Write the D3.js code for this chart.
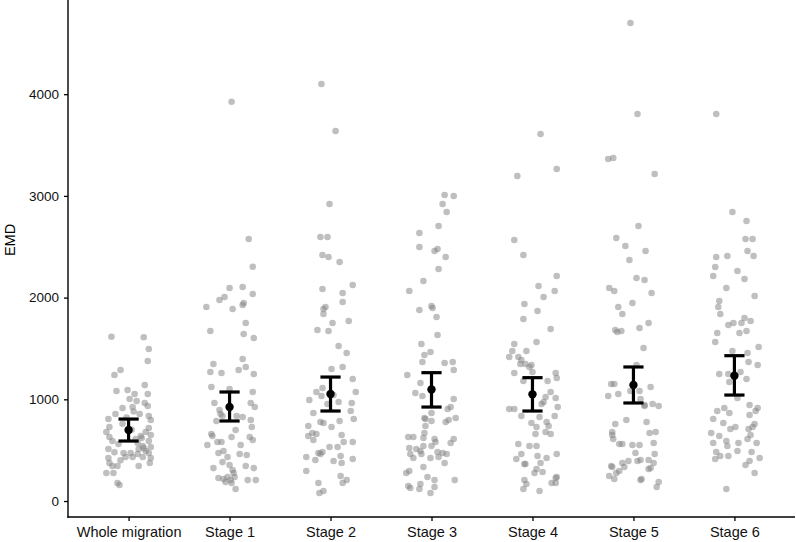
<!DOCTYPE html>
<html>
<head>
<meta charset="utf-8">
<script src="https://cdn.jsdelivr.net/npm/d3@7"></script>
<style>
  html, body { margin: 0; padding: 0; background: #fff; }
  svg { display: block; }
  text { font-family: "Liberation Sans", Arial, Helvetica, sans-serif; }
</style>
</head>
<body>
<svg id="chart" width="796" height="542"></svg>
<script>
// ---- data ----
const categories = ["Whole migration", "Stage 1", "Stage 2", "Stage 3", "Stage 4", "Stage 5", "Stage 6"];
const yTicks = [0, 1000, 2000, 3000, 4000];
const meanEMD = [698, 924, 1052, 1096, 1049, 1141, 1232];
const ciLower = [590, 787, 885, 924, 885, 964, 1042];
const ciUpper = [806, 1072, 1219, 1262, 1213, 1318, 1429];

// each point: [jitter (hundredths of a category step), EMD]
const pointsWhole = [[-17,1615],[15,1610],[20,1495],[19,1377],[-8,1288],[-14,1239],[16,1140],[-12,1082],[-1,1091],[6,1052],[19,1052],[1,1003],[8,983],[16,964],[-6,914],[4,924],[19,934],[-13,855],[11,855],[20,836],[-20,806],[22,796],[-19,728],[20,718],[-22,679],[17,679],[22,649],[-19,629],[13,619],[-16,590],[20,590],[9,570],[14,541],[22,531],[-20,511],[10,511],[17,492],[-5,472],[2,472],[9,462],[20,472],[-20,423],[-3,433],[14,433],[4,433],[22,423],[-19,374],[21,374],[-16,344],[-11,344],[10,344],[-22,275],[-15,275],[-11,177],[-9,157],[-6,760],[3,700],[-10,560],[12,640],[5,880],[-14,480],[7,610],[-2,820],[15,520],[-8,400]];
const pointsStage1 = [[2,3926],[19,2576],[23,2304],[0,2094],[13,2104],[23,2035],[-10,1976],[-5,2006],[-23,1908],[3,1888],[13,1927],[14,1947],[16,1750],[-19,1672],[14,1642],[24,1603],[13,1396],[-16,1347],[16,1318],[9,1288],[-19,1268],[-8,1259],[24,1249],[-18,1121],[0,1101],[23,1072],[-15,964],[21,964],[25,924],[-10,895],[-9,855],[-7,836],[7,836],[13,826],[-13,787],[21,796],[22,728],[6,698],[-18,659],[-17,639],[2,629],[20,629],[23,600],[-12,580],[-8,580],[-22,551],[11,551],[-6,492],[-11,472],[10,462],[17,452],[-2,433],[-7,383],[-16,324],[0,354],[16,344],[3,305],[4,275],[24,324],[-11,226],[-6,216],[-2,236],[1,206],[5,236],[-4,187],[2,177],[18,206],[26,206],[6,118]];
const pointsStage2 = [[-9,4100],[5,3638],[-1,2920],[-10,2596],[-3,2596],[-8,2419],[-2,2399],[9,2350],[-8,2085],[12,2045],[22,2124],[12,1957],[-5,1908],[-7,1888],[-7,1839],[2,1750],[18,1770],[-13,1681],[-2,1672],[8,1524],[16,1455],[1,1298],[12,1318],[22,1200],[-8,1111],[-14,1072],[25,1072],[-9,1032],[3,1042],[-21,993],[8,974],[21,964],[-3,954],[20,885],[-17,865],[23,806],[9,787],[-10,777],[-7,767],[1,728],[-22,737],[-18,669],[-22,639],[-14,659],[11,649],[-17,600],[13,580],[22,580],[-1,531],[7,531],[-12,472],[-8,482],[-10,462],[10,442],[-24,433],[-15,403],[3,393],[11,374],[22,413],[-24,295],[10,246],[16,206],[12,177],[-12,177],[-7,98],[-11,79]];
const pointsStage3 = [[13,3009],[22,2999],[11,2920],[15,2842],[7,2704],[-12,2635],[-12,2498],[3,2458],[6,2478],[14,2399],[7,2281],[-8,2163],[-22,2065],[-12,1878],[0,1917],[1,1898],[5,1809],[6,1632],[-10,1544],[-7,1436],[-1,1465],[-9,1367],[13,1357],[21,1367],[22,1288],[-24,1239],[-11,1160],[-16,1062],[-9,1032],[22,1003],[19,924],[16,905],[0,865],[-7,816],[-6,806],[0,787],[14,777],[17,796],[24,816],[-6,737],[-7,669],[-23,629],[-18,629],[-8,619],[3,610],[4,580],[22,610],[19,570],[-8,541],[0,541],[-22,521],[-15,511],[-11,492],[6,482],[-21,462],[-10,462],[11,472],[15,462],[-18,423],[-1,423],[7,433],[13,374],[-8,334],[-22,295],[-25,275],[-4,236],[3,206],[23,206],[-11,167],[-23,147],[-21,128],[-12,118],[3,138],[-1,79]];
const pointsStage4 = [[8,3609],[24,3265],[-15,3196],[-18,2566],[-9,2419],[24,2212],[6,2114],[22,2065],[11,2006],[-8,1937],[5,1868],[-9,1790],[18,1691],[4,1563],[-18,1544],[-20,1475],[-6,1475],[-23,1416],[-14,1416],[-11,1386],[-12,1347],[-7,1347],[-1,1337],[-3,1318],[0,1268],[-18,1259],[23,1259],[24,1209],[-9,1180],[15,1180],[18,1072],[13,1022],[23,1013],[11,974],[9,954],[-23,905],[-18,905],[25,924],[7,826],[-11,836],[22,836],[-1,767],[14,777],[4,728],[16,737],[13,679],[18,659],[3,659],[-14,560],[-3,541],[4,541],[-11,462],[5,442],[24,462],[-16,413],[-8,364],[14,423],[8,374],[-7,364],[4,315],[2,275],[10,285],[-8,206],[-6,167],[-9,118],[7,98],[19,177],[23,226],[24,236],[23,177]];
const pointsStage5 = [[-3,4700],[4,3805],[-25,3363],[-20,3373],[21,3215],[5,2704],[-17,2586],[-8,2507],[12,2458],[-4,2370],[3,2193],[11,2173],[-24,2094],[-19,2065],[18,2045],[-1,1947],[-15,1908],[-11,1839],[15,1750],[6,1701],[-18,1681],[-16,1662],[-12,1672],[10,1504],[3,1337],[-22,1150],[-19,1150],[-3,1082],[6,1082],[17,1121],[-25,1032],[-15,1052],[7,1003],[11,944],[11,934],[19,954],[25,934],[-7,796],[13,777],[-18,757],[-21,679],[-21,649],[16,669],[22,679],[-20,610],[-14,560],[-11,560],[-1,551],[6,551],[20,570],[2,472],[21,462],[-5,393],[4,393],[7,403],[15,403],[20,374],[-11,374],[-22,344],[-21,334],[-9,334],[17,324],[15,315],[-14,295],[-17,275],[-24,246],[-19,216],[7,206],[8,216],[25,187],[23,138]];
const pointsStage6 = [[-18,3805],[-2,2842],[12,2753],[11,2576],[18,2576],[13,2458],[19,2409],[-18,2399],[-7,2409],[-19,2301],[-21,2212],[3,2262],[10,2183],[-8,2094],[20,2016],[-15,1967],[-16,1908],[-14,1839],[-6,1731],[-1,1750],[7,1750],[10,1799],[16,1770],[-17,1652],[5,1652],[12,1672],[-19,1563],[24,1514],[-2,1475],[13,1455],[14,1367],[23,1337],[-15,1249],[-6,1249],[6,1268],[-5,1170],[12,1200],[3,1013],[15,944],[23,914],[21,885],[-10,914],[-17,885],[-5,865],[15,846],[-21,806],[-11,767],[20,757],[18,728],[-4,708],[1,728],[14,708],[-23,669],[16,649],[-15,639],[13,610],[-21,570],[-8,590],[-7,541],[4,570],[22,570],[-18,482],[3,492],[17,482],[-14,442],[-19,413],[-6,442],[25,423],[15,393],[11,354],[20,275],[-8,118]];

const groups = [pointsWhole, pointsStage1, pointsStage2, pointsStage3, pointsStage4, pointsStage5, pointsStage6];

// ---- layout ----
const svg = d3.select("#chart");
const panel = { left: 68, right: 795, top: 0, bottom: 517 };

const x = d3.scalePoint()
  .domain(categories)
  .range([panel.left, panel.right])
  .padding(0.6);

const y = d3.scaleLinear()
  .domain([-157, 4926])
  .range([panel.bottom, panel.top]);

const step = x.step();

// points
const pts = [];
groups.forEach((g, i) => g.forEach(p => pts.push({ cat: categories[i], j: p[0], v: p[1] })));

svg.append("g")
  .selectAll("circle")
  .data(pts)
  .join("circle")
  .attr("cx", d => x(d.cat) + d.j / 100 * step)
  .attr("cy", d => y(d.v))
  .attr("r", 3.3)
  .attr("fill", "#7f7f7f")
  .attr("fill-opacity", 0.5);

// error bars
const summary = categories.map((c, i) => ({ cat: c, mean: meanEMD[i], lo: ciLower[i], hi: ciUpper[i] }));
const capHalf = 0.1 * step;
const eb = svg.append("g").attr("stroke", "#000").attr("stroke-width", 3.2).attr("fill", "none");
summary.forEach(d => {
  const cx = x(d.cat);
  eb.append("line").attr("x1", cx).attr("x2", cx).attr("y1", y(d.lo)).attr("y2", y(d.hi));
  eb.append("line").attr("x1", cx - capHalf).attr("x2", cx + capHalf).attr("y1", y(d.lo)).attr("y2", y(d.lo));
  eb.append("line").attr("x1", cx - capHalf).attr("x2", cx + capHalf).attr("y1", y(d.hi)).attr("y2", y(d.hi));
});
svg.append("g")
  .selectAll("circle")
  .data(summary)
  .join("circle")
  .attr("cx", d => x(d.cat))
  .attr("cy", d => y(d.mean))
  .attr("r", 4.2)
  .attr("fill", "#000");

// axes
const yAxis = d3.axisLeft(y).tickValues(yTicks).tickSize(4).tickSizeOuter(0).tickPadding(5).tickFormat(d3.format("d"));
const gy = svg.append("g").attr("transform", `translate(${panel.left},0)`).call(yAxis);
const xAxis = d3.axisBottom(x).tickSize(4).tickSizeOuter(0).tickPadding(6);
const gx = svg.append("g").attr("transform", `translate(0,${panel.bottom})`).call(xAxis);

[gx, gy].forEach(g => {
  g.select(".domain").attr("stroke", "#000").attr("stroke-width", 1.4);
  g.selectAll(".tick line").attr("stroke", "#000").attr("stroke-width", 1.3);
  g.selectAll(".tick text").attr("fill", "#111");
});
gy.selectAll(".tick text").style("font-size", "13.5px");
gx.selectAll(".tick text").style("font-size", "14.5px");
gy.select(".domain").attr("d", `M0,${panel.bottom + 0.7}V${panel.top}`);
gx.select(".domain").attr("d", `M${panel.left - 0.7},0H${panel.right}`);

// y title
svg.append("text")
  .attr("transform", `translate(15,240) rotate(-90)`)
  .attr("text-anchor", "middle")
  .attr("fill", "#000")
  .style("font-size", "14.5px")
  .text("EMD");
</script>
</body>
</html>
